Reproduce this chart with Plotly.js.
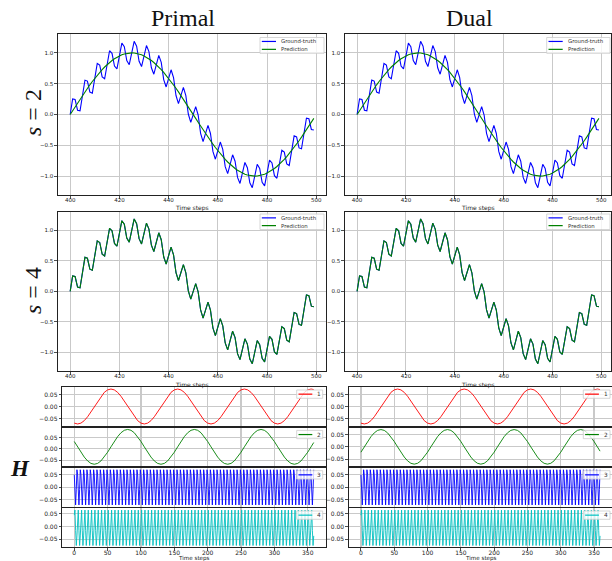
<!DOCTYPE html>
<html><head><meta charset="utf-8">
<script src="https://cdn.plot.ly/plotly-3.0.1.min.js"></script>
<style>html,body{margin:0;padding:0;background:#fff}#c{width:612px;height:561px}</style>
</head><body><div id="c"></div>
<script>
// ---------------- DATA ----------------
const timeTop = Array.from({length:100},(_, i)=>400+i);
const groundTruth = [0,0.253,0.243,0.070,0.059,0.309,0.558,0.543,0.364,0.346,
0.588,0.828,0.802,0.611,0.580,0.809,1.035,0.994,0.787,0.740,
0.951,1.159,1.100,0.875,0.808,1.000,1.188,1.110,0.865,0.778,
0.951,1.120,1.022,0.759,0.654,0.809,0.961,0.847,0.567,0.447,
0.588,0.726,0.599,0.308,0.178,0.309,0.439,0.305,0.008,-0.127,
0,0.127,-0.008,-0.305,-0.439,-0.309,-0.178,-0.308,-0.599,-0.726,
-0.588,-0.447,-0.567,-0.847,-0.961,-0.809,-0.654,-0.759,-1.022,-1.120,
-0.951,-0.778,-0.865,-1.110,-1.188,-1.000,-0.808,-0.875,-1.100,-1.159,
-0.951,-0.740,-0.787,-0.994,-1.035,-0.809,-0.580,-0.611,-0.802,-0.828,
-0.588,-0.346,-0.364,-0.543,-0.558,-0.309,-0.059,-0.070,-0.243,-0.253];
const predS2 = [0,0.063,0.125,0.187,0.249,0.309,0.368,0.426,0.482,0.536,
0.588,0.637,0.685,0.729,0.771,0.809,0.844,0.876,0.905,0.930,
0.951,0.969,0.982,0.992,0.998,1.000,0.998,0.992,0.982,0.969,
0.951,0.930,0.905,0.876,0.844,0.809,0.771,0.729,0.685,0.637,
0.588,0.536,0.482,0.426,0.368,0.309,0.249,0.187,0.125,0.063,
0,-0.063,-0.125,-0.187,-0.249,-0.309,-0.368,-0.426,-0.482,-0.536,
-0.588,-0.637,-0.685,-0.729,-0.771,-0.809,-0.844,-0.876,-0.905,-0.930,
-0.951,-0.969,-0.982,-0.992,-0.998,-1.000,-0.998,-0.992,-0.982,-0.969,
-0.951,-0.930,-0.905,-0.876,-0.844,-0.809,-0.771,-0.729,-0.685,-0.637,
-0.588,-0.536,-0.482,-0.426,-0.368,-0.309,-0.249,-0.187,-0.125,-0.063];
// s = 4: prediction coincides with the ground truth
const predS4 = groundTruth.slice();

const timeH = Array.from({length:72},(_, i)=>5*i).concat([359]);
const h1 = [-0.069,-0.0725,-0.069,-0.0587,-0.0426,-0.0224,0,0.0224,0.0426,0.0587,0.069,0.0725,0.069,0.0587,0.0426,0.0224,0,-0.0224,-0.0426,-0.0587,
-0.069,-0.0725,-0.069,-0.0587,-0.0426,-0.0224,0,0.0224,0.0426,0.0587,0.069,0.0725,0.069,0.0587,0.0426,0.0224,0,-0.0224,-0.0426,-0.0587,
-0.069,-0.0725,-0.069,-0.0587,-0.0426,-0.0224,0,0.0224,0.0426,0.0587,0.069,0.0725,0.069,0.0587,0.0426,0.0224,0,-0.0224,-0.0426,-0.0587,
-0.069,-0.0725,-0.069,-0.0587,-0.0426,-0.0224,0,0.0224,0.0426,0.0587,0.069,0.0725,0.0702];
const h2Primal = [0.032,0.0085,-0.0151,-0.0365,-0.0534,-0.0643,-0.068,-0.0643,-0.0534,-0.0365,-0.0151,0.0085,0.032,0.0535,0.0704,0.0813,0.085,0.0813,0.0704,0.0535,
0.032,0.0085,-0.0151,-0.0365,-0.0534,-0.0643,-0.068,-0.0643,-0.0534,-0.0365,-0.0151,0.0085,0.032,0.0535,0.0704,0.0813,0.085,0.0813,0.0704,0.0535,
0.032,0.0085,-0.0151,-0.0365,-0.0534,-0.0643,-0.068,-0.0643,-0.0534,-0.0365,-0.0151,0.0085,0.032,0.0535,0.0704,0.0813,0.085,0.0813,0.0704,0.0535,
0.032,0.0085,-0.0151,-0.0365,-0.0534,-0.0643,-0.068,-0.0643,-0.0534,-0.0365,-0.0151,0.0085,0.0275];
const h2Dual = [-0.0216,0,0.0216,0.0412,0.0566,0.0666,0.07,0.0666,0.0566,0.0412,0.0216,0,-0.0216,-0.0412,-0.0566,-0.0666,-0.07,-0.0666,-0.0566,-0.0412,
-0.0216,0,0.0216,0.0412,0.0566,0.0666,0.07,0.0666,0.0566,0.0412,0.0216,0,-0.0216,-0.0412,-0.0566,-0.0666,-0.07,-0.0666,-0.0566,-0.0412,
-0.0216,0,0.0216,0.0412,0.0566,0.0666,0.07,0.0666,0.0566,0.0412,0.0216,0,-0.0216,-0.0412,-0.0566,-0.0666,-0.07,-0.0666,-0.0566,-0.0412,
-0.0216,0,0.0216,0.0412,0.0566,0.0666,0.07,0.0666,0.0566,0.0412,0.0216,0,-0.0174];

const timeFast = Array.from({length:360},(_, i)=>i);
const h3 = [
0.05,-0.03,-0.072,-0.01,0.07,0.05,-0.03,-0.072,-0.01,0.07,0.05,-0.03,-0.072,-0.01,0.07,0.05,-0.03,-0.072,-0.01,0.07,
0.05,-0.03,-0.072,-0.01,0.07,0.05,-0.03,-0.072,-0.01,0.07,0.05,-0.03,-0.072,-0.01,0.07,0.05,-0.03,-0.072,-0.01,0.07,
0.05,-0.03,-0.072,-0.01,0.07,0.05,-0.03,-0.072,-0.01,0.07,0.05,-0.03,-0.072,-0.01,0.07,0.05,-0.03,-0.072,-0.01,0.07,
0.05,-0.03,-0.072,-0.01,0.07,0.05,-0.03,-0.072,-0.01,0.07,0.05,-0.03,-0.072,-0.01,0.07,0.05,-0.03,-0.072,-0.01,0.07,
0.05,-0.03,-0.072,-0.01,0.07,0.05,-0.03,-0.072,-0.01,0.07,0.05,-0.03,-0.072,-0.01,0.07,0.05,-0.03,-0.072,-0.01,0.07,
0.05,-0.03,-0.072,-0.01,0.07,0.05,-0.03,-0.072,-0.01,0.07,0.05,-0.03,-0.072,-0.01,0.07,0.05,-0.03,-0.072,-0.01,0.07,
0.05,-0.03,-0.072,-0.01,0.07,0.05,-0.03,-0.072,-0.01,0.07,0.05,-0.03,-0.072,-0.01,0.07,0.05,-0.03,-0.072,-0.01,0.07,
0.05,-0.03,-0.072,-0.01,0.07,0.05,-0.03,-0.072,-0.01,0.07,0.05,-0.03,-0.072,-0.01,0.07,0.05,-0.03,-0.072,-0.01,0.07,
0.05,-0.03,-0.072,-0.01,0.07,0.05,-0.03,-0.072,-0.01,0.07,0.05,-0.03,-0.072,-0.01,0.07,0.05,-0.03,-0.072,-0.01,0.07,
0.05,-0.03,-0.072,-0.01,0.07,0.05,-0.03,-0.072,-0.01,0.07,0.05,-0.03,-0.072,-0.01,0.07,0.05,-0.03,-0.072,-0.01,0.07,
0.05,-0.03,-0.072,-0.01,0.07,0.05,-0.03,-0.072,-0.01,0.07,0.05,-0.03,-0.072,-0.01,0.07,0.05,-0.03,-0.072,-0.01,0.07,
0.05,-0.03,-0.072,-0.01,0.07,0.05,-0.03,-0.072,-0.01,0.07,0.05,-0.03,-0.072,-0.01,0.07,0.05,-0.03,-0.072,-0.01,0.07,
0.05,-0.03,-0.072,-0.01,0.07,0.05,-0.03,-0.072,-0.01,0.07,0.05,-0.03,-0.072,-0.01,0.07,0.05,-0.03,-0.072,-0.01,0.07,
0.05,-0.03,-0.072,-0.01,0.07,0.05,-0.03,-0.072,-0.01,0.07,0.05,-0.03,-0.072,-0.01,0.07,0.05,-0.03,-0.072,-0.01,0.07,
0.05,-0.03,-0.072,-0.01,0.07,0.05,-0.03,-0.072,-0.01,0.07,0.05,-0.03,-0.072,-0.01,0.07,0.05,-0.03,-0.072,-0.01,0.07,
0.05,-0.03,-0.072,-0.01,0.07,0.05,-0.03,-0.072,-0.01,0.07,0.05,-0.03,-0.072,-0.01,0.07,0.05,-0.03,-0.072,-0.01,0.07,
0.05,-0.03,-0.072,-0.01,0.07,0.05,-0.03,-0.072,-0.01,0.07,0.05,-0.03,-0.072,-0.01,0.07,0.05,-0.03,-0.072,-0.01,0.07,
0.05,-0.03,-0.072,-0.01,0.07,0.05,-0.03,-0.072,-0.01,0.07,0.05,-0.03,-0.072,-0.01,0.07,0.05,-0.03,-0.072,-0.01,0.07];
const h4 = [
0.045,0.065,-0.016,-0.075,-0.037,0.045,0.065,-0.016,-0.075,-0.037,0.045,0.065,-0.016,-0.075,-0.037,0.045,0.065,-0.016,-0.075,-0.037,
0.045,0.065,-0.016,-0.075,-0.037,0.045,0.065,-0.016,-0.075,-0.037,0.045,0.065,-0.016,-0.075,-0.037,0.045,0.065,-0.016,-0.075,-0.037,
0.045,0.065,-0.016,-0.075,-0.037,0.045,0.065,-0.016,-0.075,-0.037,0.045,0.065,-0.016,-0.075,-0.037,0.045,0.065,-0.016,-0.075,-0.037,
0.045,0.065,-0.016,-0.075,-0.037,0.045,0.065,-0.016,-0.075,-0.037,0.045,0.065,-0.016,-0.075,-0.037,0.045,0.065,-0.016,-0.075,-0.037,
0.045,0.065,-0.016,-0.075,-0.037,0.045,0.065,-0.016,-0.075,-0.037,0.045,0.065,-0.016,-0.075,-0.037,0.045,0.065,-0.016,-0.075,-0.037,
0.045,0.065,-0.016,-0.075,-0.037,0.045,0.065,-0.016,-0.075,-0.037,0.045,0.065,-0.016,-0.075,-0.037,0.045,0.065,-0.016,-0.075,-0.037,
0.045,0.065,-0.016,-0.075,-0.037,0.045,0.065,-0.016,-0.075,-0.037,0.045,0.065,-0.016,-0.075,-0.037,0.045,0.065,-0.016,-0.075,-0.037,
0.045,0.065,-0.016,-0.075,-0.037,0.045,0.065,-0.016,-0.075,-0.037,0.045,0.065,-0.016,-0.075,-0.037,0.045,0.065,-0.016,-0.075,-0.037,
0.045,0.065,-0.016,-0.075,-0.037,0.045,0.065,-0.016,-0.075,-0.037,0.045,0.065,-0.016,-0.075,-0.037,0.045,0.065,-0.016,-0.075,-0.037,
0.045,0.065,-0.016,-0.075,-0.037,0.045,0.065,-0.016,-0.075,-0.037,0.045,0.065,-0.016,-0.075,-0.037,0.045,0.065,-0.016,-0.075,-0.037,
0.045,0.065,-0.016,-0.075,-0.037,0.045,0.065,-0.016,-0.075,-0.037,0.045,0.065,-0.016,-0.075,-0.037,0.045,0.065,-0.016,-0.075,-0.037,
0.045,0.065,-0.016,-0.075,-0.037,0.045,0.065,-0.016,-0.075,-0.037,0.045,0.065,-0.016,-0.075,-0.037,0.045,0.065,-0.016,-0.075,-0.037,
0.045,0.065,-0.016,-0.075,-0.037,0.045,0.065,-0.016,-0.075,-0.037,0.045,0.065,-0.016,-0.075,-0.037,0.045,0.065,-0.016,-0.075,-0.037,
0.045,0.065,-0.016,-0.075,-0.037,0.045,0.065,-0.016,-0.075,-0.037,0.045,0.065,-0.016,-0.075,-0.037,0.045,0.065,-0.016,-0.075,-0.037,
0.045,0.065,-0.016,-0.075,-0.037,0.045,0.065,-0.016,-0.075,-0.037,0.045,0.065,-0.016,-0.075,-0.037,0.045,0.065,-0.016,-0.075,-0.037,
0.045,0.065,-0.016,-0.075,-0.037,0.045,0.065,-0.016,-0.075,-0.037,0.045,0.065,-0.016,-0.075,-0.037,0.045,0.065,-0.016,-0.075,-0.037,
0.045,0.065,-0.016,-0.075,-0.037,0.045,0.065,-0.016,-0.075,-0.037,0.045,0.065,-0.016,-0.075,-0.037,0.045,0.065,-0.016,-0.075,-0.037,
0.045,0.065,-0.016,-0.075,-0.037,0.045,0.065,-0.016,-0.075,-0.037,0.045,0.065,-0.016,-0.075,-0.037,0.045,0.065,-0.016,-0.075,-0.037];

const columnTitles = ["Primal", "Dual"];
const legendTop = ["Ground-truth", "Prediction"];
const legendH = ["1", "2", "3", "4"];

// ---------------- LAYOUT ----------------
const W = 612, HH = 561;
const px = v => v / W, py = v => 1 - v / HH;
const C = {blue:'#0000ff', green:'#008000', red:'#ff0000', cyan:'#00bfbf'};
const tickFont = {family:'DejaVu Sans', size:5.5, color:'#222'};
const tickFontH = {family:'DejaVu Sans', size:6, color:'#222'};
const grid = '#c9c9c9';

function xax(x0, x1, range, dtick, showLabels, font){
  return {domain:[px(x0), px(x1)], range:range, dtick:dtick, tick0:0,
    showgrid:true, gridcolor:grid, gridwidth:1.1, zeroline:false,
    showline:true, mirror:true, linecolor:'#222', linewidth:1.1,
    ticks: showLabels ? 'outside' : '', ticklen:2.5, tickcolor:'#222', tickwidth:0.8,
    ticklabelstandoff:-3,
    showticklabels:showLabels, tickfont:font, fixedrange:true};
}
function yax(y0, y1, range, dtick, fmt, font){
  return {domain:[py(y1), py(y0)], range:range, dtick:dtick, tick0:0, tickformat:fmt,
    showgrid:true, gridcolor:grid, gridwidth:1.1, zeroline:false,
    showline:true, mirror:true, linecolor:'#222', linewidth:1.1,
    ticks:'outside', ticklen:2.5, tickcolor:'#222', tickwidth:0.8,
    tickfont:font, fixedrange:true};
}

const layout = {width:W, height:HH, margin:{l:0,r:0,t:0,b:0}, showlegend:false,
  paper_bgcolor:'#fff', plot_bgcolor:'#fff', shapes:[], annotations:[]};
const data = [];
let n = 0;
function addAxes(xa, ya){
  n += 1;
  const xk = n===1 ? 'xaxis' : 'xaxis'+n, yk = n===1 ? 'yaxis' : 'yaxis'+n;
  const xr = n===1 ? 'x' : 'x'+n, yr = n===1 ? 'y' : 'y'+n;
  xa.anchor = yr; ya.anchor = xr;
  layout[xk] = xa; layout[yk] = ya;
  return {xr, yr};
}
function line(ref, x, y, color, w){
  data.push({type:'scatter', mode:'lines', x:x, y:y, xaxis:ref.xr, yaxis:ref.yr,
    line:{color:color, width:w}, hoverinfo:'skip'});
}
function legendBox(x0, y0, x1, y1, entries, fontSize){
  layout.shapes.push({type:'rect', xref:'paper', yref:'paper', x0:px(x0), x1:px(x1), y0:py(y1), y1:py(y0),
    line:{color:'#cccccc', width:0.8}, fillcolor:'rgba(255,255,255,0.8)', layer:'above'});
  const rowH = (y1 - y0) / entries.length;
  entries.forEach((e, i) => {
    const yc = y0 + rowH * (i + 0.5);
    layout.shapes.push({type:'line', xref:'paper', yref:'paper', x0:px(x0+1.8), x1:px(x0+e.len), y0:py(yc), y1:py(yc),
      line:{color:e.color, width:1.2}, layer:'above'});
    layout.annotations.push({xref:'paper', yref:'paper', x:px(x0+e.len+3), y:py(yc), xanchor:'left', yanchor:'middle',
      text:e.text, showarrow:false, font:{family:'DejaVu Sans', size:fontSize, color:'#333'}});
  });
}
function label(x, y, text, size, opts){
  layout.annotations.push(Object.assign({xref:'paper', yref:'paper', x:px(x), y:py(y), xanchor:'center', yanchor:'middle',
    text:text, showarrow:false, font:{family:'DejaVu Sans', size:size, color:'#222'}}, opts||{}));
}

const cols = [
  {x0:58, x1:326, hx0:62.3, hx1:325.7, h2:h2Primal, h2range:[-0.0757,0.0927], lgx:260, lgx1:324, hlx:296.7, hlx1:322.7, title:columnTitles[0], tx:182.5},
  {x0:345, x1:611, hx0:349, hx1:612, h2:h2Dual, h2range:[-0.0775,0.0775], lgx:546.7, lgx1:610, hlx:583.3, hlx1:610, title:columnTitles[1], tx:469.5}
];
const topRange = [395.05, 503.95], ySig = [-1.307, 1.307], hxRange = [-17.95, 376.95];

cols.forEach(c => {
  const r1 = addAxes(xax(c.x0, c.x1, topRange, 20, true, tickFont), yax(34, 195, ySig, 0.5, '.1f', tickFont));
  line(r1, timeTop, groundTruth, C.blue, 1.1);
  line(r1, timeTop, predS2, C.green, 1.1);
});
cols.forEach(c => {
  const r2 = addAxes(xax(c.x0, c.x1, topRange, 20, true, tickFont), yax(211.7, 371, ySig, 0.5, '.1f', tickFont));
  line(r2, timeTop, groundTruth, C.blue, 1.1);
  line(r2, timeTop, predS4, C.green, 1.1);
});
const hRows = [[387.3,425.7],[427.7,466],[468,506.7],[508.3,547.3]];
cols.forEach(c => {
  const series = [
    {y:h1, x:timeH, color:C.red, range:[-0.0797,0.0797]},
    {y:c.h2, x:timeH, color:C.green, range:c.h2range},
    {y:h3, x:timeFast, color:C.blue, range:[-0.0791,0.0771]},
    {y:h4, x:timeFast, color:C.cyan, range:[-0.082,0.072]}
  ];
  series.forEach((s, i) => {
    const r = addAxes(xax(c.hx0, c.hx1, hxRange, 50, i===3, tickFontH),
                      yax(hRows[i][0], hRows[i][1], s.range, 0.05, '.2f', tickFontH));
    line(r, s.x, s.y, s.color, 0.9);
    legendBox(c.hlx, hRows[i][0]+2.7, c.hlx1, hRows[i][0]+11, [{text:legendH[i], color:s.color, len:15.6}], 5.8);
  });
  legendBox(c.lgx, 37.5, c.lgx1, 53.3, [{text:legendTop[0], color:C.blue, len:16}, {text:legendTop[1], color:C.green, len:16}], 5.4);
  legendBox(c.lgx, 214, c.lgx1, 229.5, [{text:legendTop[0], color:C.blue, len:16}, {text:legendTop[1], color:C.green, len:16}], 5.4);
  const cx = (c.x0 + c.x1) / 2, hcx = (c.hx0 + c.hx1) / 2;
  label(cx, 208.3, 'Time steps', 6);
  label(cx, 384.5, 'Time steps', 6);
  label(hcx, 558, 'Time steps', 5.6);
  label(c.tx, 18, c.title, 24, {font:{family:'Liberation Serif', size:24, color:'#111'}});
});
label(33, 113, '<i>s</i> = 2', 24, {textangle:-90, font:{family:'Liberation Serif', size:24, color:'#111'}});
label(33, 291, '<i>s</i> = 4', 24, {textangle:-90, font:{family:'Liberation Serif', size:24, color:'#111'}});
label(20, 468, '<b><i>H</i></b>', 23, {font:{family:'Liberation Serif', size:23, color:'#111'}});

Plotly.newPlot('c', data, layout, {staticPlot:true, displayModeBar:false});
</script>
</body></html>
